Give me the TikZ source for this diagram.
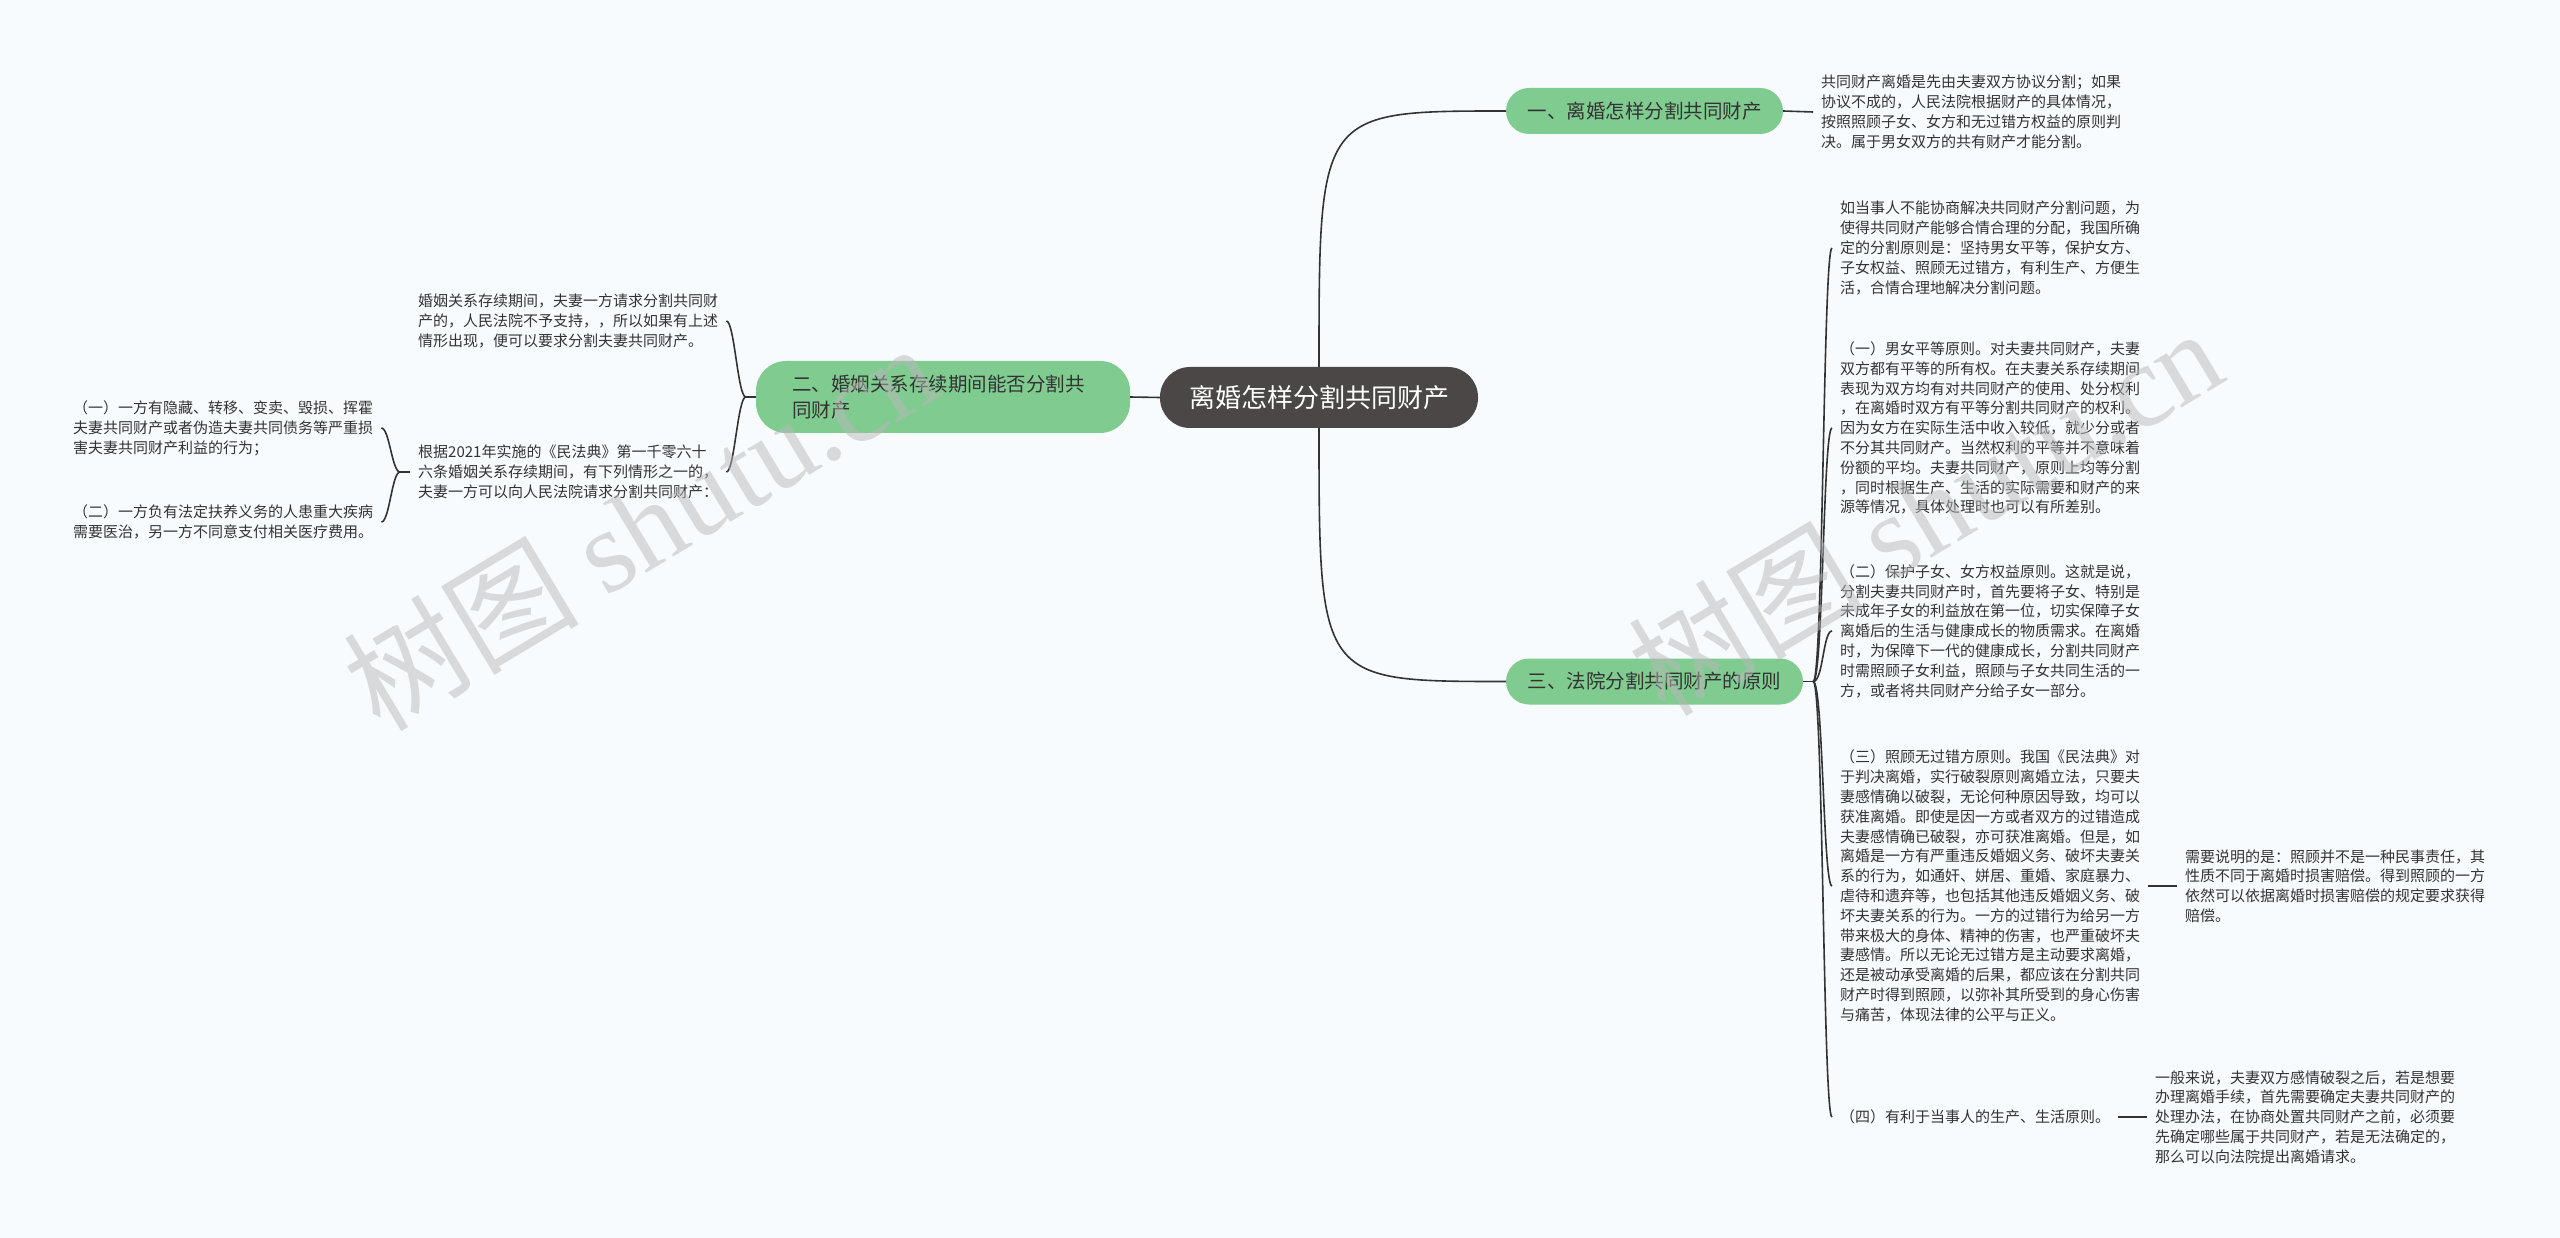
\documentclass[tikz,border=0pt]{standalone}
\usepackage{fontspec}
\setmainfont{Noto Sans CJK SC}
\newfontfamily\wmserif{Liberation Serif}
\usetikzlibrary{calc}
\definecolor{bgc}{HTML}{F8FBFD}
\definecolor{rootc}{HTML}{4B4746}
\definecolor{greenc}{HTML}{80CB90}
\definecolor{txtc}{HTML}{333333}
\definecolor{linec}{HTML}{333333}
\definecolor{wmc}{HTML}{B8B8B8}
\tikzset{
  rootbox/.style={fill=rootc, text=white, rounded corners=30pt, minimum width=318pt, minimum height=61pt, inner sep=0pt, font=\fontsize{26}{30}\selectfont},
  branchbox/.style={fill=greenc, text=txtc, rounded corners=23pt, minimum height=46pt, inner sep=0pt, font=\fontsize{19.5}{26}\selectfont},
  leaftext/.style={inner xsep=8pt, inner ysep=2pt, align=left, text=txtc, font=\fontsize{15}{19.8}\selectfont},
  conn/.style={draw=linec, line width=1.6pt},
  wmark/.style={text=wmc, opacity=0.5, font=\fontsize{118}{120}\selectfont, rotate=31}
}
\begin{document}
\begin{tikzpicture}[x=1pt,y=-1pt]
\path[fill=bgc] (0,0) rectangle (2560,1238);
\useasboundingbox (0,0) rectangle (2560,1238);

% root and branches
\node[rootbox] (root) at (1319,397.5) {离婚怎样分割共同财产};
\node[branchbox, minimum width=277pt] (b1) at (1644.5,111) {一、离婚怎样分割共同财产};
\node[branchbox, minimum width=297pt] (b3) at (1654.5,681.5) {三、法院分割共同财产的原则};
\node[branchbox, minimum width=374pt, minimum height=72pt, rounded corners=30pt, text width=302pt, align=left] (b2) at (943,397) {二、婚姻关系存续期间能否分割共\\同财产};

% right leaves
\node[leaftext, anchor=west] (lb1) at (1813,112) {共同财产离婚是先由夫妻双方协议分割；如果\\协议不成的，人民法院根据财产的具体情况，\\按照照顾子女、女方和无过错方权益的原则判\\决。属于男女双方的共有财产才能分割。};

\node[leaftext, anchor=west] (c1) at (1832,248) {如当事人不能协商解决共同财产分割问题，为\\使得共同财产能够合情合理的分配，我国所确\\定的分割原则是：坚持男女平等，保护女方、\\子女权益、照顾无过错方，有利生产、方便生\\活，合情合理地解决分割问题。};

\node[leaftext, anchor=west] (c2) at (1832,428) {（一）男女平等原则。对夫妻共同财产，夫妻\\双方都有平等的所有权。在夫妻关系存续期间\\表现为双方均有对共同财产的使用、处分权利\\，在离婚时双方有平等分割共同财产的权利。\\因为女方在实际生活中收入较低，就少分或者\\不分其共同财产。当然权利的平等并不意味着\\份额的平均。夫妻共同财产，原则上均等分割\\，同时根据生产、生活的实际需要和财产的来\\源等情况，具体处理时也可以有所差别。};

\node[leaftext, anchor=west] (c3) at (1832,631) {（二）保护子女、女方权益原则。这就是说，\\分割夫妻共同财产时，首先要将子女、特别是\\未成年子女的利益放在第一位，切实保障子女\\离婚后的生活与健康成长的物质需求。在离婚\\时，为保障下一代的健康成长，分割共同财产\\时需照顾子女利益，照顾与子女共同生活的一\\方，或者将共同财产分给子女一部分。};

\node[leaftext, anchor=west] (c4) at (1832,886) {（三）照顾无过错方原则。我国《民法典》对\\于判决离婚，实行破裂原则离婚立法，只要夫\\妻感情确以破裂，无论何种原因导致，均可以\\获准离婚。即使是因一方或者双方的过错造成\\夫妻感情确已破裂，亦可获准离婚。但是，如\\离婚是一方有严重违反婚姻义务、破坏夫妻关\\系的行为，如通奸、姘居、重婚、家庭暴力、\\虐待和遗弃等，也包括其他违反婚姻义务、破\\坏夫妻关系的行为。一方的过错行为给另一方\\带来极大的身体、精神的伤害，也严重破坏夫\\妻感情。所以无论无过错方是主动要求离婚，\\还是被动承受离婚的后果，都应该在分割共同\\财产时得到照顾，以弥补其所受到的身心伤害\\与痛苦，体现法律的公平与正义。};

\node[leaftext, anchor=west] (c4s) at (2177,886) {需要说明的是：照顾并不是一种民事责任，其\\性质不同于离婚时损害赔偿。得到照顾的一方\\依然可以依据离婚时损害赔偿的规定要求获得\\赔偿。};

\node[leaftext, anchor=west] (c5) at (1832,1117) {（四）有利于当事人的生产、生活原则。};

\node[leaftext, anchor=west] (c5s) at (2147,1117) {一般来说，夫妻双方感情破裂之后，若是想要\\办理离婚手续，首先需要确定夫妻共同财产的\\处理办法，在协商处置共同财产之前，必须要\\先确定哪些属于共同财产，若是无法确定的，\\那么可以向法院提出离婚请求。};

% left leaves
\node[leaftext, anchor=west] (d1) at (410,321) {婚姻关系存续期间，夫妻一方请求分割共同财\\产的，人民法院不予支持，，所以如果有上述\\情形出现，便可以要求分割夫妻共同财产。};

\node[leaftext, anchor=west] (d2) at (410,472) {根据2021年实施的《民法典》第一千零六十\\六条婚姻关系存续期间，有下列情形之一的，\\夫妻一方可以向人民法院请求分割共同财产：};

\node[leaftext, anchor=west] (e1) at (65,428) {（一）一方有隐藏、转移、变卖、毁损、挥霍\\夫妻共同财产或者伪造夫妻共同债务等严重损\\害夫妻共同财产利益的行为；};

\node[leaftext, anchor=west] (e2) at (65,522) {（二）一方负有法定扶养义务的人患重大疾病\\需要医治，另一方不同意支付相关医疗费用。};

% connectors from root
\draw[conn] (root.north) .. controls (root.north |- b1.west) .. (b1.west);
\draw[conn] (root.south) .. controls (root.south |- b3.west) .. (b3.west);
\draw[conn] (root.west) -- (b2.east);
\draw[conn] (b1.east) -- (lb1.west);

% branch 3 fan
\coordinate (j3) at ($(b3.east)+(10,0)$);
\draw[conn] (b3.east) -- (j3);
\foreach \c in {c1,c2,c3,c4,c5}{
  \draw[conn] (j3) .. controls ($(j3)+(10,0)$) and ($(\c.west)+(-9,0)$) .. (\c.west);
}
\draw[conn] (c4.east) -- (c4s.west);
\draw[conn] (c5.east) -- (c5s.west);

% branch 2 fan
\coordinate (j2) at ($(b2.west)+(-10,0)$);
\draw[conn] (b2.west) -- (j2);
\foreach \c in {d1,d2}{
  \draw[conn] (j2) .. controls ($(j2)+(-8,0)$) and ($(\c.east)+(8,0)$) .. (\c.east);
}
\coordinate (jd) at ($(d2.west)+(-10,0)$);
\draw[conn] (d2.west) -- (jd);
\foreach \c in {e1,e2}{
  \draw[conn] (jd) .. controls ($(jd)+(-8,0)$) and ($(\c.east)+(8,0)$) .. (\c.east);
}

% watermarks
\node[wmark] (wm1) at (640,525) {树图 {\wmserif shutu.cn}};
\node[wmark] (wm2) at (1925,510) {树图 {\wmserif shutu.cn}};
\end{tikzpicture}
\end{document}
